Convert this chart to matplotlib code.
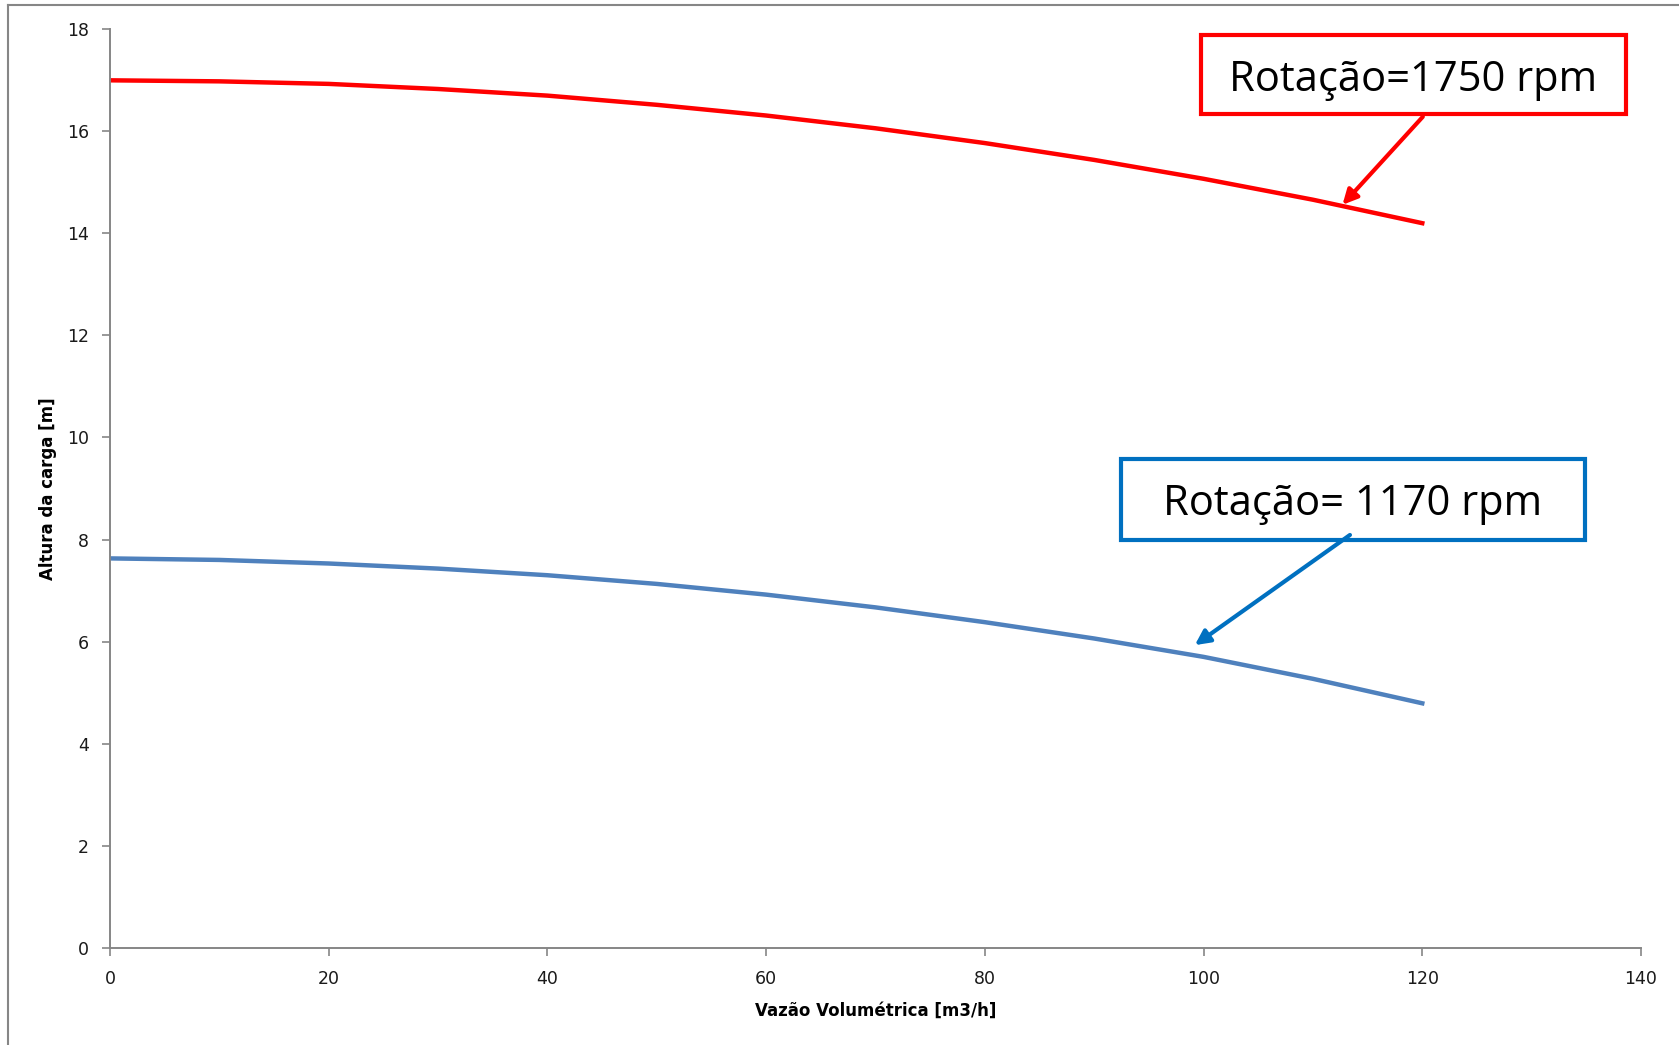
import matplotlib

matplotlib.use("Agg")
import matplotlib.pyplot as plt
from matplotlib.lines import Line2D
from matplotlib.patches import Rectangle

# curve data (flow in m3/h, head in m)
vazao = [0, 10, 20, 30, 40, 50, 60, 70, 80, 90, 100, 110, 120]
altura_1750 = [17.0, 16.98, 16.93, 16.83, 16.70, 16.52, 16.31, 16.06, 15.77, 15.44, 15.07, 14.66, 14.2]
altura_1170 = [7.63, 7.60, 7.53, 7.43, 7.30, 7.13, 6.92, 6.67, 6.38, 6.06, 5.70, 5.27, 4.79]

x_ticks = [0, 20, 40, 60, 80, 100, 120, 140]
y_ticks = [0, 2, 4, 6, 8, 10, 12, 14, 16, 18]

label_1750 = "Rotação=1750 rpm"
label_1170 = "Rotação= 1170 rpm"
target_1750 = (112.7, 14.56)
target_1170 = (99.2, 5.93)

RED = "#FF0000"
BLUE_LINE = "#4F81BD"
BLUE_BOX = "#0070C0"
AXIS_GRAY = "#868686"

W, H = 1679, 1045
fig = plt.figure(figsize=(W / 100, H / 100), dpi=100)
ax = fig.add_axes([110 / W, 1 - 947.7 / H, 1531 / W, 918.4 / H])

ax.plot(vazao, altura_1750, color=RED, linewidth=3.2, solid_joinstyle="round")
ax.plot(vazao, altura_1170, color=BLUE_LINE, linewidth=3.2, solid_joinstyle="round")

ax.set_xlim(0, 140)
ax.set_ylim(0, 18)
ax.set_xticks(x_ticks)
ax.set_yticks(y_ticks)
for side in ("top", "right"):
    ax.spines[side].set_visible(False)
for side in ("left", "bottom"):
    ax.spines[side].set_color(AXIS_GRAY)
    ax.spines[side].set_linewidth(1.4)
ax.tick_params(axis="both", direction="out", length=6, width=1.2, color=AXIS_GRAY,
               labelsize=12.5, labelcolor="#1a1a1a")
ax.tick_params(axis="x", pad=10)
ax.tick_params(axis="y", pad=9)

ax.set_xlabel("Vazão Volumétrica [m3/h]", fontsize=12, fontweight="bold", labelpad=10)
ax.set_ylabel("Altura da carga [m]", fontsize=12, fontweight="bold", labelpad=7)

# annotation boxes (axes fraction): text, colour, box, text baseline, arrow start, arrow tip
boxes = [
    (label_1750, RED, (0.7124, 0.9078, 0.9899 - 0.7124, 0.9938 - 0.9078), 0.9328,
     (0.8575, 0.9048), target_1750),
    (label_1170, BLUE_BOX, (0.6602, 0.4439, 0.9634 - 0.6602, 0.5318 - 0.4439), 0.4711,
     (0.8099, 0.4494), target_1170),
]
for text, color, (bx, by, bw, bh), base_y, start, target in boxes:
    ax.add_patch(Rectangle((bx, by), bw, bh, transform=ax.transAxes, facecolor="white",
                           edgecolor=color, linewidth=3, zorder=4, clip_on=False))
    ax.text(bx + bw / 2, base_y, text, transform=ax.transAxes, ha="center", va="baseline",
            fontsize=30, family="Open Sans", color="black", zorder=5)
    ax.annotate("", xy=target, xycoords="data", xytext=start, textcoords="axes fraction",
                arrowprops=dict(arrowstyle="-|>", color=color, lw=3, mutation_scale=22,
                                shrinkA=0, shrinkB=0), zorder=5)

# outer chart frame (only left and top edges visible in the crop)
fig.add_artist(Line2D([7.5 / W, 7.5 / W], [0, 1 - 5 / H], color=AXIS_GRAY, linewidth=1.5))
fig.add_artist(Line2D([7.5 / W, 1], [1 - 5 / H, 1 - 5 / H], color=AXIS_GRAY, linewidth=1.5))

fig.savefig("out.png", dpi=100)
